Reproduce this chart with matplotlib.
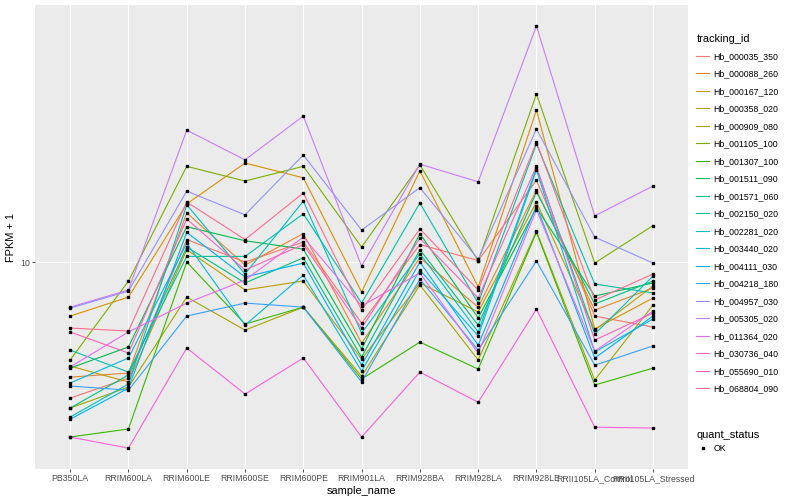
import numpy as np
import matplotlib
matplotlib.use("Agg")
import matplotlib.pyplot as plt
from matplotlib.lines import Line2D
from matplotlib.ticker import NullLocator

plt.rcParams["font.family"] = ["Liberation Sans", "DejaVu Sans"]

# ── data (FPKM + 1) ──────────────────────────────────────────────────────────
samples = ["PB350LA", "RRIM600LA", "RRIM600LE", "RRIM600SE", "RRIM600PE",
           "RRIM901LA", "RRIM928BA", "RRIM928LA", "RRIM928LE",
           "RRII105LA_Control", "RRII105LA_Stressed"]

tracking_ids = ["Hb_000035_350", "Hb_000088_260", "Hb_000167_120", "Hb_000358_020",
                "Hb_000909_080", "Hb_001105_100", "Hb_001307_100", "Hb_001511_090",
                "Hb_001571_060", "Hb_002150_020", "Hb_002281_020", "Hb_003440_020",
                "Hb_004111_030", "Hb_004218_180", "Hb_004957_030", "Hb_005305_020",
                "Hb_011364_020", "Hb_030736_040", "Hb_055690_010", "Hb_068804_090"]

colors = ["#F8766D", "#EA8331", "#D89000", "#C09B00", "#A3A500", "#7CAE00",
          "#39B600", "#00BB4E", "#00BF7D", "#00C1A3", "#00BFC4", "#00BAE0",
          "#00B0F6", "#35A2FF", "#9590FF", "#C77CFF", "#E76BF3", "#FA62DB",
          "#FF62BC", "#FF6C91"]

hb_000035_350 = [3.87, 4.45, 11.7, 10.0, 11.5, 6.53, 11.3, 10.1, 17.7, 6.86, 6.35]
hb_000088_260 = [4.48, 4.61, 14.1, 9.79, 12.2, 5.68, 10.3, 7.30, 16.5, 7.15, 8.34]
hb_000167_120 = [6.86, 7.83, 15.0, 19.95, 18.0, 8.11, 18.9, 8.40, 28.9, 6.27, 7.78]
hb_000358_020 = [4.84, 4.33, 10.9, 8.23, 8.76, 5.08, 8.64, 7.06, 15.2, 6.22, 8.46]
hb_000909_080 = [3.61, 4.18, 7.83, 6.22, 7.30, 4.51, 8.52, 5.05, 12.4, 4.39, 7.41]
hb_001105_100 = [5.05, 8.76, 19.5, 17.6, 19.5, 11.1, 19.7, 10.07, 32.3, 9.93, 12.9]
hb_001307_100 = [2.95, 3.12, 10.0, 6.49, 7.30, 4.42, 5.72, 4.74, 12.3, 4.24, 4.77]
hb_001511_090 = [4.77, 5.53, 12.8, 11.6, 10.95, 5.45, 12.2, 6.77, 14.6, 7.89, 8.64]
hb_001571_060 = [3.61, 4.55, 11.1, 8.64, 10.3, 5.15, 10.9, 6.44, 16.3, 7.46, 8.76]
hb_002150_020 = [5.41, 4.64, 10.4, 10.4, 14.0, 7.51, 15.1, 7.51, 22.8, 8.58, 8.06]
hb_002281_020 = [3.39, 4.27, 14.9, 9.20, 15.3, 6.09, 10.6, 6.14, 19.3, 6.05, 9.07]
hb_003440_020 = [4.30, 5.12, 11.4, 6.44, 9.13, 4.67, 9.46, 5.97, 19.0, 5.34, 6.72]
hb_004111_030 = [3.34, 4.15, 12.3, 9.01, 9.93, 4.87, 10.0, 5.60, 14.8, 5.12, 6.86]
hb_004218_180 = [4.21, 4.09, 6.86, 7.51, 7.30, 4.33, 8.88, 5.41, 10.07, 4.87, 5.57]
hb_004957_030 = [7.25, 8.17, 16.4, 13.9, 21.1, 12.5, 16.8, 10.2, 25.3, 11.9, 9.93]
hb_005305_020 = [7.30, 8.23, 25.1, 20.4, 27.7, 9.72, 19.8, 17.5, 51.9, 13.8, 17.0]
hb_011364_020 = [4.81, 6.14, 7.51, 8.82, 11.9, 7.36, 9.26, 5.30, 14.4, 5.37, 7.10]
hb_030736_040 = [2.95, 2.73, 5.49, 3.98, 5.12, 2.95, 4.64, 3.76, 7.20, 3.16, 3.14]
hb_055690_010 = [6.14, 5.30, 13.5, 9.46, 11.3, 6.31, 11.8, 7.78, 19.5, 5.80, 7.01]
hb_068804_090 = [6.31, 6.18, 15.2, 11.7, 16.2, 7.15, 12.6, 8.23, 23.1, 7.67, 9.20]

series = [hb_000035_350, hb_000088_260, hb_000167_120, hb_000358_020, hb_000909_080,
          hb_001105_100, hb_001307_100, hb_001511_090, hb_001571_060, hb_002150_020,
          hb_002281_020, hb_003440_020, hb_004111_030, hb_004218_180, hb_004957_030,
          hb_005305_020, hb_011364_020, hb_030736_040, hb_055690_010, hb_068804_090]

# ── plot ─────────────────────────────────────────────────────────────────────
fig = plt.figure(figsize=(8, 5), dpi=100)
ax = fig.add_axes([0.044, 0.062, 0.816, 0.928])
ax.set_facecolor("#EBEBEB")
for sp in ax.spines.values():
    sp.set_visible(False)

x = np.arange(len(samples))
for vals, col in zip(series, colors):
    ax.plot(x, vals, color=col, linewidth=0.8, zorder=2)
for vals in series:
    ax.plot(x, vals, ls="none", marker="s", markersize=2.0, color="black", zorder=3)

ax.set_yscale("log")
ax.set_ylim(2.36, 60.1)
ax.set_yticks([10])
ax.set_yticklabels(["10"])
ax.yaxis.set_minor_locator(NullLocator())
ax.set_xlim(-0.6, len(samples) - 0.4)
ax.set_xticks(x)
ax.set_xticklabels(samples)

ax.grid(True, color="white", linewidth=0.8)
ax.set_axisbelow(True)
ax.tick_params(colors="#333333", labelcolor="#4D4D4D", labelsize=6.3,
               length=2, width=0.6, pad=1.5)

ax.set_xlabel("sample_name", fontsize=7.9, labelpad=2)
ax.set_ylabel("FPKM + 1", fontsize=7.9, labelpad=3)

handles = [Line2D([], [], color=c, linewidth=0.8) for c in colors]
leg1 = fig.legend(handles, tracking_ids, title="tracking_id", loc="upper left",
                  bbox_to_anchor=(0.866, 0.94), frameon=False, fontsize=6.3,
                  title_fontsize=7.9, handlelength=1.5, handletextpad=0.45,
                  labelspacing=0.97, alignment="left", borderaxespad=0)

ok = [Line2D([], [], ls="none", marker="s", markersize=2.0, color="black")]
leg2 = fig.legend(ok, ["OK"], title="quant_status", loc="upper left",
                  bbox_to_anchor=(0.866, 0.148), frameon=False, fontsize=6.3,
                  title_fontsize=7.9, handlelength=1.5, handletextpad=0.45,
                  alignment="left", borderaxespad=0)

fig.savefig("out.png", dpi=100)
plt.close(fig)
